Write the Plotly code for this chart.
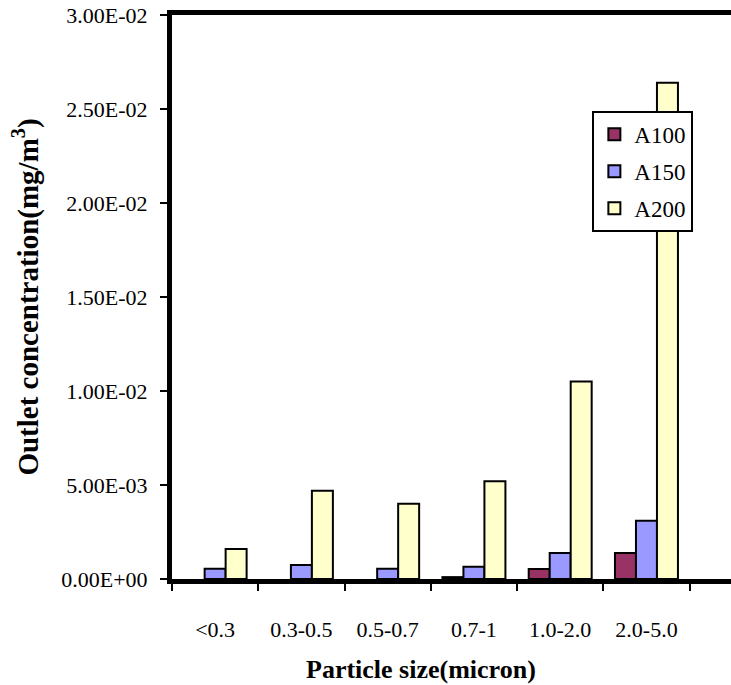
import plotly.graph_objects as go

categories = ["<0.3", "0.3-0.5", "0.5-0.7", "0.7-1", "1.0-2.0", "2.0-5.0"]
a100 = [None, None, None, 0.0001, 0.00053, 0.00138]
a150 = [0.00055, 0.00075, 0.00055, 0.00065, 0.00138, 0.0031]
a200 = [0.0016, 0.0047, 0.0040, 0.0052, 0.0105, 0.0264]
series_names = ["A100", "A150", "A200"]
series_colors = ["#993366", "#9999FF", "#FFFFCC"]
y_tickvals = [0, 0.005, 0.01, 0.015, 0.02, 0.025, 0.03]
y_ticktext = ["0.00E+00", "5.00E-03", "1.00E-02", "1.50E-02", "2.00E-02", "2.50E-02", "3.00E-02"]
x_title = "<b>Particle size(micron)</b>"
y_title = "<b>Outlet concentration(mg/m<sup>3</sup>)</b>"

FONT = "Liberation Serif"

fig = go.Figure()
for name, vals, col in zip(series_names, [a100, a150, a200], series_colors):
    fig.add_trace(go.Bar(
        x=categories, y=vals, name=name, legendgroup=name,
        marker=dict(color=col, line=dict(color="black", width=2)),
    ))

fig.update_layout(
    width=731, height=685,
    margin=dict(l=171.5, r=0, t=14.5, b=106, pad=0),
    paper_bgcolor="white", plot_bgcolor="white",
    barmode="group", bargap=0.27, bargroupgap=0,
    font=dict(family=FONT, color="black", size=22),
    showlegend=True,
    legend=dict(
        x=0.752, y=0.83, xanchor="left", yanchor="top",
        bgcolor="white", bordercolor="black", borderwidth=2,
        font=dict(family=FONT, size=23, color="black"),
        tracegroupgap=4, itemwidth=30,
    ),
    xaxis=dict(
        type="category", range=[-0.5, 5.98],
        showline=True, linecolor="black", linewidth=5, mirror=True,
        ticks="outside", tickson="boundaries", ticklen=7, tickwidth=2, tickcolor="black",
        tickfont=dict(family=FONT, size=22, color="black"),
        ticklabelstandoff=27,
        showgrid=False, zeroline=False,
    ),
    yaxis=dict(
        range=[0, 0.03], tickmode="array", tickvals=y_tickvals, ticktext=y_ticktext,
        showline=True, linecolor="black", linewidth=5,
        ticks="outside", ticklen=7, tickwidth=2, tickcolor="black",
        tickfont=dict(family=FONT, size=22, color="black"),
        ticklabelstandoff=8,
        showgrid=False, zeroline=False,
        title=dict(text=y_title, font=dict(family=FONT, size=29, color="black"), standoff=16),
    ),
    annotations=[dict(
        text=x_title, xref="paper", yref="paper", x=0.446, y=-0.161,
        xanchor="center", yanchor="middle", showarrow=False,
        font=dict(family=FONT, size=26, color="black"),
    )],
)

fig.write_html("out.html")
